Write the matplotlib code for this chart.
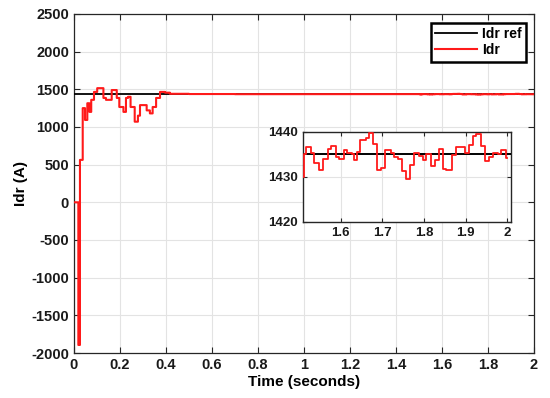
import matplotlib
matplotlib.use("Agg")
import matplotlib.pyplot as plt

plt.rcParams['font.family'] = ['Liberation Sans', 'DejaVu Sans']
plt.rcParams['font.weight'] = 'bold'
plt.rcParams['axes.unicode_minus'] = False

# ---- data ----
idr_ref = 1435.0
t_idr = [0.0, 0.019, 0.026, 0.038, 0.048, 0.058, 0.067, 0.075, 0.087, 0.101,
         0.128, 0.139, 0.164, 0.186, 0.197, 0.215, 0.226, 0.235, 0.246, 0.264,
         0.278, 0.287, 0.316, 0.330, 0.342, 0.357, 0.374, 0.396, 0.417,
         0.5, 0.7, 0.9, 1.1, 1.3, 1.505,
         1.5115, 1.518, 1.529, 1.537, 1.547, 1.558, 1.569, 1.577, 1.589, 1.597,
         1.608, 1.616, 1.627, 1.632, 1.639, 1.646, 1.662, 1.669, 1.678, 1.688,
         1.696, 1.706, 1.720, 1.727, 1.738, 1.748, 1.758, 1.767, 1.777, 1.788,
         1.797, 1.805, 1.817, 1.827, 1.837, 1.846, 1.854, 1.867, 1.877, 1.899,
         1.907, 1.918, 1.926, 1.936, 1.946, 1.956, 1.965, 1.978, 1.986, 1.996,
         2.0]
v_idr = [0, -1893, 563, 1250, 1093, 1315, 1200, 1360, 1465, 1515,
         1385, 1360, 1490, 1385, 1265, 1200, 1385, 1400, 1265, 1070,
         1150, 1290, 1220, 1180, 1265, 1385, 1465, 1455, 1440,
         1437, 1435, 1436, 1434, 1436, 1430,
         1435, 1436.6, 1435.3, 1433.1, 1431.5, 1434, 1436.2, 1436.8, 1434.4, 1434,
         1435.9, 1435.3, 1435, 1433.7, 1435.6, 1438.1, 1438.6, 1439.8, 1437.4, 1431.6,
         1432, 1435.9, 1435.4, 1434.4, 1434, 1431.3, 1429.6, 1432.7, 1435.4, 1434.6,
         1433.7, 1435.2, 1432.5, 1433.7, 1436.2, 1431.8, 1431.5, 1434.9, 1436.6, 1435.4,
         1437.1, 1439.1, 1439.6, 1436.9, 1433.5, 1434.4, 1435.4, 1435.2, 1435.9, 1434.2,
         1434.2]

x_ticks = [0, 0.2, 0.4, 0.6, 0.8, 1.0, 1.2, 1.4, 1.6, 1.8, 2.0]
x_tick_labels = ['0', '0.2', '0.4', '0.6', '0.8', '1', '1.2', '1.4', '1.6', '1.8', '2']
y_ticks = [-2000, -1500, -1000, -500, 0, 500, 1000, 1500, 2000, 2500]
inset_x_ticks = [1.6, 1.7, 1.8, 1.9, 2.0]
inset_x_labels = ['1.6', '1.7', '1.8', '1.9', '2']
inset_y_ticks = [1420, 1430, 1440]

spine_col = '#262626'
grid_col = '#e3e3e3'

fig = plt.figure(figsize=(5.5, 3.98), dpi=100)
ax = fig.add_axes([0.1345, 0.113, 0.8365, 0.852])

ax.plot([0, 2], [idr_ref, idr_ref], color='black', lw=1.3, label='Idr ref', zorder=3)
ax.plot(t_idr, v_idr, color='#ff1a1a', lw=1.5, drawstyle='steps-post', label='Idr',
        zorder=4, snap=False)

ax.set_xlim(0, 2)
ax.set_ylim(-2000, 2500)
ax.set_xticks(x_ticks)
ax.set_xticklabels(x_tick_labels)
ax.set_yticks(y_ticks)
ax.grid(True, color=grid_col, lw=0.8)
ax.set_axisbelow(True)
ax.tick_params(direction='in', top=True, right=True, length=4, width=0.8,
               colors=spine_col, labelsize=10.5, labelcolor='#1a1a1a')
for s in ax.spines.values():
    s.set_color(spine_col)
    s.set_linewidth(0.9)
ax.set_xlabel('Time (seconds)', fontsize=11, fontweight='bold', labelpad=2)
ax.set_ylabel('Idr (A)', fontsize=11, fontweight='bold', labelpad=2)

leg = ax.legend(loc='upper right', bbox_to_anchor=(0.983, 0.973), borderaxespad=0,
                fontsize=10, handlelength=3.0, fancybox=False, framealpha=1,
                edgecolor='black', borderpad=0.3, labelspacing=0.15, handletextpad=0.4)
leg.get_frame().set_linewidth(1.8)
for txt in leg.get_texts():
    txt.set_fontweight('bold')

# ---- inset ----
axi = fig.add_axes([0.5504, 0.443, 0.378, 0.2254])
axi.plot([1.4, 2.1], [idr_ref, idr_ref], color='black', lw=1.4, zorder=3)
axi.plot(t_idr, v_idr, color='#ff1a1a', lw=1.3, drawstyle='steps-post', zorder=4)
axi.set_xlim(1.509, 2.008)
axi.set_ylim(1420, 1440)
axi.set_xticks(inset_x_ticks)
axi.set_xticklabels(inset_x_labels)
axi.set_yticks(inset_y_ticks)
axi.grid(True, color=grid_col, lw=0.8)
axi.set_axisbelow(True)
axi.tick_params(direction='in', top=True, right=True, length=3, width=0.8,
                colors=spine_col, labelsize=9.5, labelcolor='#1a1a1a')
for s in axi.spines.values():
    s.set_color(spine_col)
    s.set_linewidth(1.0)

fig.savefig('out.png', dpi=100)
